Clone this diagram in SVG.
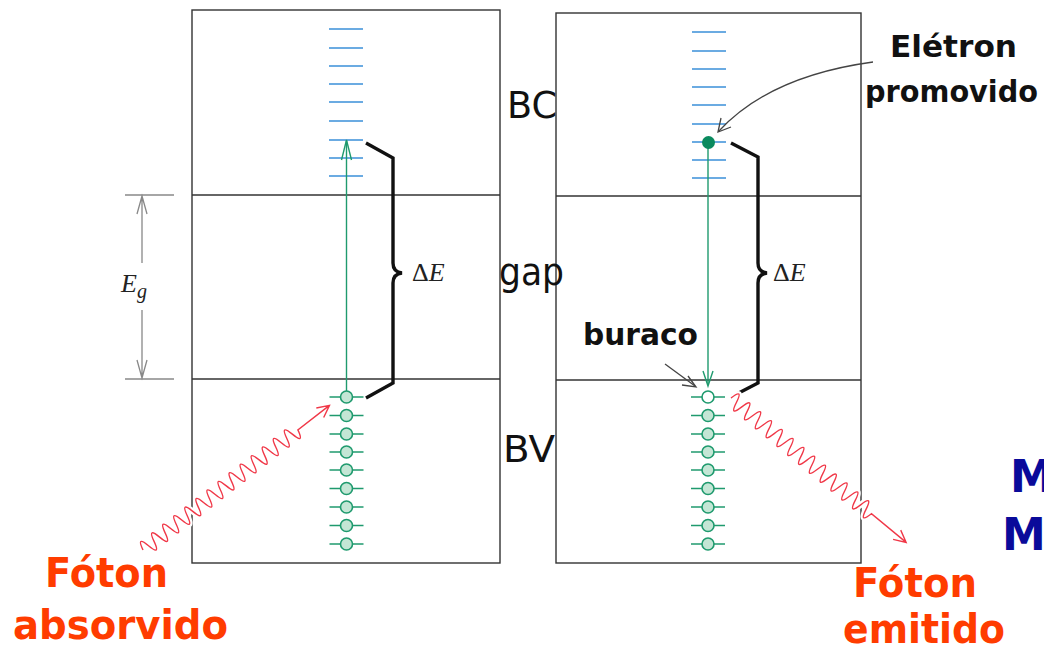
<svg xmlns="http://www.w3.org/2000/svg" width="1044" height="650" viewBox="0 0 1044 650">
<style>
.panel{fill:none;stroke:#333;stroke-width:1.4}
.hl{stroke:#333;stroke-width:1.3}
.bc{stroke:#3a8fd8;stroke-width:1.4}
.gl{stroke:#1f9a6e;stroke-width:1.4;fill:none}
.cir{fill:#c4e6d5;stroke:#1f9a6e;stroke-width:1.6}
.brace{fill:none;stroke:#111;stroke-width:3.4;stroke-linejoin:miter}
.wave{fill:none;stroke:#f03848;stroke-width:1.4}
.halo{fill:none;stroke:#fff;stroke-width:6}
.gray{stroke:#888;stroke-width:1.3;fill:none}
.lbl{font-family:"DejaVu Sans","Liberation Sans",sans-serif;font-size:38px;fill:#111}
.blk{font-family:"DejaVu Sans","Liberation Sans",sans-serif;font-weight:bold;font-size:30px;fill:#111}
.red{font-family:"DejaVu Sans","Liberation Sans",sans-serif;font-weight:bold;font-size:40px;fill:#ff3c00}
.math{font-family:"Liberation Serif","DejaVu Serif",serif;font-size:26px;fill:#222}
.ann{fill:none;stroke:#444;stroke-width:1.3}
</style>
<defs>
<g id="bcl">
<line class="bc" x1="0" y1="0" x2="34" y2="0"/>
</g>
<g id="cirG">
<line class="gl" x1="-17" y1="0" x2="17" y2="0"/>
<circle class="cir" cx="0" cy="0" r="6"/>
</g>
</defs>

<g id="left-panel">
<rect class="panel" x="192" y="10" width="308" height="553"/>
<line class="hl" x1="192" y1="195" x2="500" y2="195"/>
<line class="hl" x1="192" y1="379" x2="500" y2="379"/>
</g>
<g id="right-panel">
<rect class="panel" x="556" y="13" width="305" height="550"/>
<line class="hl" x1="556" y1="196" x2="861" y2="196"/>
<line class="hl" x1="556" y1="380" x2="861" y2="380"/>
</g>

<g id="left-bc">
<use href="#bcl" x="329" y="29"/>
<use href="#bcl" x="329" y="48"/>
<use href="#bcl" x="329" y="66"/>
<use href="#bcl" x="329" y="84"/>
<use href="#bcl" x="329" y="102"/>
<use href="#bcl" x="329" y="121"/>
<use href="#bcl" x="329" y="140"/>
<use href="#bcl" x="329" y="158"/>
<use href="#bcl" x="329" y="176"/>
</g>
<g id="right-bc">
<use href="#bcl" x="692" y="32"/>
<use href="#bcl" x="692" y="51"/>
<use href="#bcl" x="692" y="69"/>
<use href="#bcl" x="692" y="87"/>
<use href="#bcl" x="692" y="105"/>
<use href="#bcl" x="692" y="124"/>
<use href="#bcl" x="692" y="142"/>
<use href="#bcl" x="692" y="160"/>
<use href="#bcl" x="692" y="178"/>
</g>

<g id="left-bv">
<use href="#cirG" x="346.5" y="397"/>
<use href="#cirG" x="346.5" y="415.5"/>
<use href="#cirG" x="346.5" y="434"/>
<use href="#cirG" x="346.5" y="452"/>
<use href="#cirG" x="346.5" y="470"/>
<use href="#cirG" x="346.5" y="488.5"/>
<use href="#cirG" x="346.5" y="507"/>
<use href="#cirG" x="346.5" y="525.5"/>
<use href="#cirG" x="346.5" y="544"/>
</g>
<g id="right-bv">
<line class="gl" x1="691" y1="397" x2="725" y2="397"/>
<circle cx="708" cy="397" r="6" fill="#fff" stroke="#1f9a6e" stroke-width="1.6"/>
<use href="#cirG" x="708" y="415.5"/>
<use href="#cirG" x="708" y="434"/>
<use href="#cirG" x="708" y="452"/>
<use href="#cirG" x="708" y="470"/>
<use href="#cirG" x="708" y="488.5"/>
<use href="#cirG" x="708" y="507"/>
<use href="#cirG" x="708" y="525.5"/>
<use href="#cirG" x="708" y="544"/>
</g>

<g id="connectors">
<!-- left absorption arrow -->
<path class="gl" d="M346.5,391 L346.5,141"/>
<path class="gl" d="M341.5,160 L346.5,140 L351.5,160"/>
<!-- right emission arrow -->
<path class="gl" d="M708,148 L708,385"/>
<path class="gl" d="M703,371 L708,386 L713,371"/>
<!-- braces -->
<path class="brace" d="M366,143 L393,158 L393,263 Q393,272 402,273 Q393,274 393,283 L393,383 L366,398"/>
<path class="brace" d="M731,143 L758,157 L758,263 Q758,272 767,273 Q758,274 758,283 L758,383 L731,397"/>
<!-- Eg arrow -->
<line class="gray" x1="125" y1="195" x2="174" y2="195"/>
<line class="gray" x1="125" y1="379" x2="174" y2="379"/>
<path class="gray" d="M142,196 L142,263 M137,214 L142,196 L147,214"/>
<path class="gray" d="M142,310 L142,378 M137,360 L142,378 L147,360"/>
<!-- electron promoted arrow -->
<path class="ann" d="M873,62 Q770,76 719,131"/>
<path class="ann" d="M721,118 L718,132 L731,127"/>
<!-- buraco arrow -->
<path class="ann" d="M665,364 L695,386"/>
<path class="ann" d="M682,385 L696,387 L688,376"/>
<!-- left photon -->
<g transform="translate(143,550) rotate(-37.8)">
<path class="halo" d="M0,0 q3.5,-16 7,0 t7,0 t7,0 t7,0 t7,0 t7,0 t7,0 t7,0 t7,0 t7,0 t7,0 t7,0 t7,0 t7,0 t7,0 t7,0 t7,0 t7,0 t7,0 t7,0 t7,0 t7,0 t7,0 t7,0 t7,0 t7,0 t7,0 t7,0"/>
<path class="wave" d="M0,0 q3.5,-16 7,0 t7,0 t7,0 t7,0 t7,0 t7,0 t7,0 t7,0 t7,0 t7,0 t7,0 t7,0 t7,0 t7,0 t7,0 t7,0 t7,0 t7,0 t7,0 t7,0 t7,0 t7,0 t7,0 t7,0 t7,0 t7,0 t7,0 t7,0 L236,0 M224,-6 L236,0 L224,6"/>
</g>
<!-- right photon -->
<g transform="translate(731,398) rotate(39.5)">
<path class="halo" d="M0,0 q3.5,-16 7,0 t7,0 t7,0 t7,0 t7,0 t7,0 t7,0 t7,0 t7,0 t7,0 t7,0 t7,0 t7,0 t7,0 t7,0 t7,0 t7,0 t7,0 t7,0 t7,0 t7,0 t7,0 t7,0 t7,0 t7,0 t7,0"/>
<path class="wave" d="M0,0 q3.5,-16 7,0 t7,0 t7,0 t7,0 t7,0 t7,0 t7,0 t7,0 t7,0 t7,0 t7,0 t7,0 t7,0 t7,0 t7,0 t7,0 t7,0 t7,0 t7,0 t7,0 t7,0 t7,0 t7,0 t7,0 t7,0 t7,0 L227,0 M215,-6 L227,0 L215,6"/>
</g>
</g>

<g id="electron">
<circle cx="708.5" cy="142.5" r="6.5" fill="#0a8a5e"/>
</g>

<g id="labels">
<text class="math" x="412" y="281">Δ<tspan font-style="italic">E</tspan></text>
<text class="math" x="773" y="281">Δ<tspan font-style="italic">E</tspan></text>
<text class="math" x="121" y="292" font-size="29" font-style="italic">E<tspan font-size="20" dy="6">g</tspan></text>
<text class="lbl" x="507" y="118" textLength="50" lengthAdjust="spacingAndGlyphs">BC</text>
<text class="lbl" x="499" y="285" textLength="65" lengthAdjust="spacingAndGlyphs">gap</text>
<text class="lbl" x="503" y="462" textLength="52" lengthAdjust="spacingAndGlyphs">BV</text>
<text class="blk" x="890" y="57" textLength="127" lengthAdjust="spacingAndGlyphs">Elétron</text>
<text class="blk" x="865" y="102" textLength="173" lengthAdjust="spacingAndGlyphs">promovido</text>
<text class="blk" x="583" y="345" textLength="115" lengthAdjust="spacingAndGlyphs">buraco</text>
<text class="red" x="45" y="587" textLength="123" lengthAdjust="spacingAndGlyphs">Fóton</text>
<text class="red" x="13" y="639" textLength="215" lengthAdjust="spacingAndGlyphs">absorvido</text>
<text class="red" x="853" y="597" textLength="124" lengthAdjust="spacingAndGlyphs">Fóton</text>
<text class="red" x="843" y="643" textLength="162" lengthAdjust="spacingAndGlyphs">emitido</text>
<text x="1010" y="492" font-family="DejaVu Sans, sans-serif" font-weight="bold" font-size="44" fill="#0a0a9a">M</text>
<text x="1002" y="550" font-family="DejaVu Sans, sans-serif" font-weight="bold" font-size="44" fill="#0a0a9a">M</text>
</g>
</svg>
